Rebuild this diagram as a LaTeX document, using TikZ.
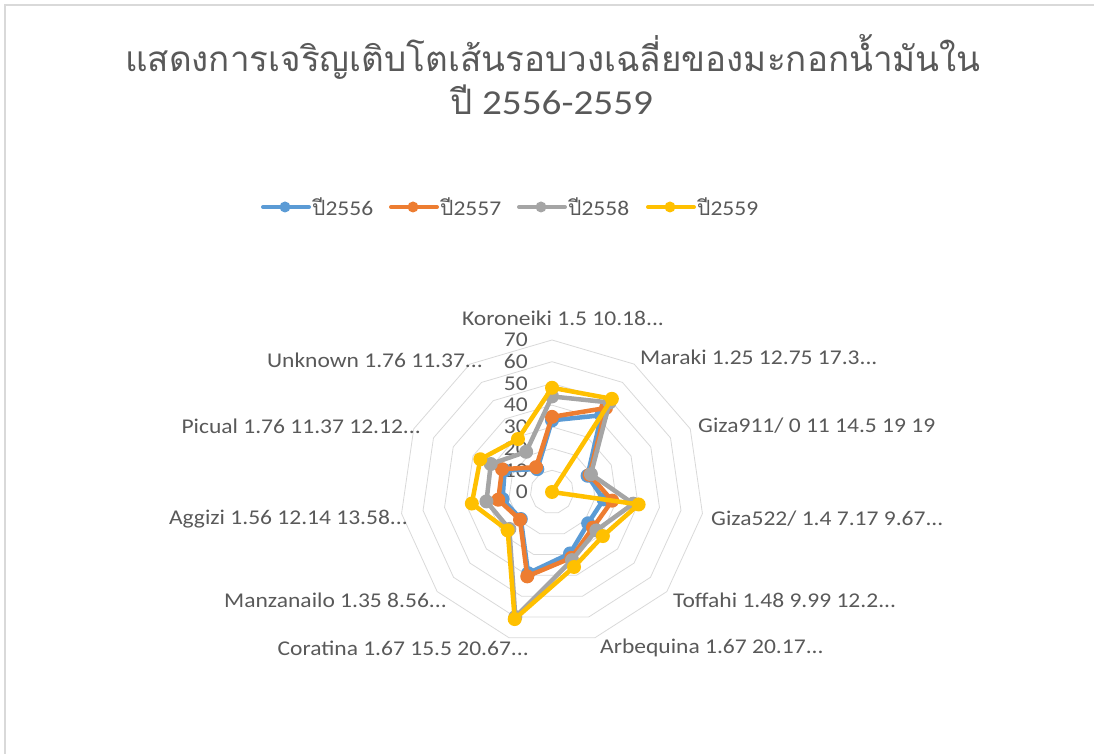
\documentclass[tikz,border=0pt]{standalone}
\usepackage{fontspec}
\setmainfont{Carlito}[FakeStretch=1.12]
\newfontfamily\thaifont[Script=Thai]{Loma}
\definecolor{rahmen}{HTML}{D9D9D9}
\definecolor{gitter}{HTML}{D9D9D9}
\definecolor{schrift}{HTML}{595959}
\definecolor{jahrA}{HTML}{5B9BD5}
\definecolor{jahrB}{HTML}{ED7D31}
\definecolor{jahrC}{HTML}{A5A5A5}
\definecolor{jahrD}{HTML}{FFC000}
\tikzset{
	serie/.style={line width=4.5pt, line join=round, line cap=round},
	punkt/.style={circle, inner sep=0pt, minimum size=14pt},
	beschriftung/.style={text=schrift, font=\fontsize{21}{25}\selectfont, inner sep=0pt}
}
\begin{document}
\begin{tikzpicture}[x=1pt, y=1pt]
	\useasboundingbox (0,0) rectangle (1094,754);
	% Rahmen
	\draw[rahmen, line width=2pt] (5,0) -- (5,749) -- (1094,749);
	% Titel
	\node[text=schrift, font=\fontsize{35}{42}\selectfont, inner sep=0pt] (titel1) at (553,697)
		{\thaifont แสดงการเจริญเติบโตเส้นรอบวงเฉลี่ยของมะกอกน้ำมันใน};
	\node[text=schrift, font=\fontsize{35}{42}\selectfont, inner sep=0pt] (titel2) at (552,654)
		{{\thaifont ปี} 2556-2559};
	% Legende
	\foreach \c/\x/\t [count=\i] in {jahrA/263/2556, jahrB/391/2557, jahrC/519/2558, jahrD/648/2559} {
		\coordinate (la\i) at (\x,547);
		\coordinate (lb\i) at (\x+46,547);
		\draw[serie, line width=4pt, \c] (la\i) -- (lb\i);
		\node[punkt, minimum size=11pt, fill=\c] (lm\i) at (\x+22,547) {};
		\node[beschriftung, anchor=west] (lt\i) at (\x+49,547) {{\thaifont ปี}\t};
	}
	% Netzdiagramm
	\begin{scope}[shift={(552,262)}]
		% Ringe
		\foreach \r in {1,...,7}
			\draw[gitter, line width=0.8pt] (90:\r*21.714)
				\foreach \k in {1,...,10} { -- ({90-\k*360/11}:\r*21.714) } -- cycle;
		% Achsenwerte
		\foreach \r in {0,...,7} {
			\pgfmathsetmacro{\wert}{int(\r*10)}
			\node[beschriftung, anchor=east] (tk\r) at (-24,\r*21.714) {\wert};
		}
		% Kategorien
		\node[beschriftung] (ko) at (11,174) {Koroneiki 1.5 10.18...};
		\node[beschriftung, anchor=west] (ma) at (88,135) {Maraki 1.25 12.75 17.3...};
		\node[beschriftung, anchor=west] (g911) at (146,66) {Giza911/ 0 11 14.5 19 19};
		\node[beschriftung, anchor=west] (g522) at (159,-27) {Giza522/ 1.4 7.17 9.67...};
		\node[beschriftung, anchor=west] (to) at (121,-108) {Toffahi 1.48 9.99 12.2...};
		\node[beschriftung, anchor=west] (ar) at (48,-156) {Arbequina 1.67 20.17...};
		\node[beschriftung, anchor=east] (co) at (-23,-156) {Coratina 1.67 15.5 20.67...};
		\node[beschriftung, anchor=east] (mz) at (-105,-108) {Manzanailo 1.35 8.56...};
		\node[beschriftung, anchor=east] (ag) at (-144,-27) {Aggizi 1.56 12.14 13.58...};
		\node[beschriftung, anchor=east] (pi) at (-131,66) {Picual 1.76 11.37 12.12...};
		\node[beschriftung, anchor=east] (un) at (-69,132) {Unknown 1.76 11.37...};
		% Datenreihen
		\foreach \c/\n/\werte in {
			jahrA/a/{33,42,18,24,22,29.5,39,19,23,24,12.5},
			jahrB/b/{34.6,46,19,28,25,31.6,40.5,19.5,25,25.3,13.6},
			jahrC/c/{44,49,19.7,37.8,27,32.7,60,26,30.5,31,22},
			jahrD/d/{48,51,0,40.3,31,36,61,27,37.3,36.3,29}} {
			\foreach \v [count=\i] in \werte
				\coordinate (\n\i) at ({90-(\i-1)*360/11}:\v*2.1714);
			\draw[serie, \c] (\n1) \foreach \i in {2,...,11} { -- (\n\i) } -- cycle;
			\foreach \i in {1,...,11}
				\node[punkt, fill=\c] (p\n\i) at (\n\i) {};
		}
	\end{scope}
\end{tikzpicture}
\end{document}
